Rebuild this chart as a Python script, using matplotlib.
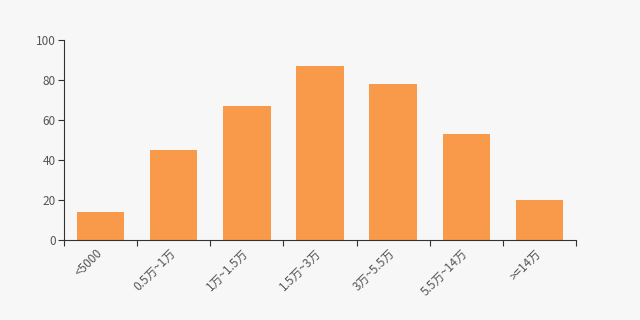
import matplotlib
matplotlib.use("Agg")
import matplotlib.pyplot as plt
import matplotlib.transforms as mtransforms

plt.rcParams['font.family'] = ['Noto Sans CJK SC', 'DejaVu Sans']

categories = ["<5000", "0.5万~1万", "1万~1.5万", "1.5万~3万", "3万~5.5万", "5.5万~14万", ">=14万"]
values = [14, 45, 67, 87, 78, 53, 20]
yticks = [0, 20, 40, 60, 80, 100]

bg = "#f7f7f7"
fig = plt.figure(figsize=(6.4, 3.2), dpi=100, facecolor=bg)
ax = fig.add_axes([64/640, 1-240/320, 512/640, 200/320], facecolor=bg)

x = list(range(len(categories)))
ax.bar(x, values, width=0.65, color="#f89a4a", zorder=2)

ax.set_xlim(-0.5, len(categories)-0.5)
ax.set_ylim(0, 100)
ax.set_yticks(yticks)
ax.set_yticklabels([str(t) for t in yticks], fontsize=8.5, color="#555555")

ax.set_xticks([i - 0.5 for i in range(len(categories)+1)])
ax.set_xticklabels([])
ax.set_xticks(x, minor=True)
ax.set_xticklabels(categories, minor=True, rotation=45, ha="right", va="top",
                   fontsize=8.5, color="#555555", rotation_mode="anchor")
ax.tick_params(axis="x", which="minor", length=0, pad=5)
ax.tick_params(axis="x", which="major", length=4, color="#333333")
ax.tick_params(axis="y", length=4, color="#333333", pad=2)

offset = mtransforms.ScaledTranslation(-5/100, 0, fig.dpi_scale_trans)
for lbl in ax.get_xticklabels(minor=True):
    lbl.set_transform(lbl.get_transform() + offset)

for s in ["top", "right"]:
    ax.spines[s].set_visible(False)
for s in ["left", "bottom"]:
    ax.spines[s].set_color("#333333")
    ax.spines[s].set_linewidth(0.8)

fig.savefig("out.png", dpi=100, facecolor=bg)
